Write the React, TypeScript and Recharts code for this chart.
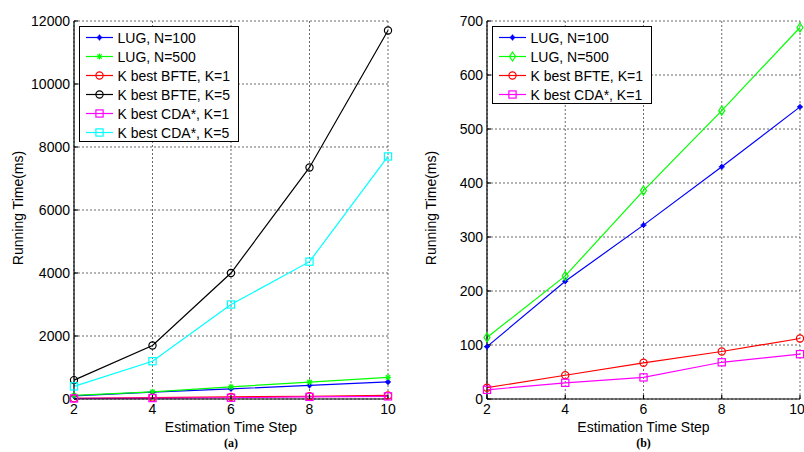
import React from 'react';
import { LineChart, Line, XAxis, YAxis, CartesianGrid, Legend } from 'recharts';

const steps = [2, 4, 6, 8, 10];
const lug100 = [97, 218, 322, 430, 541];
const lug500 = [114, 228, 386, 534, 688];
const bfteK1 = [21, 44, 67, 88, 112];
const bfteK5 = [600, 1700, 4000, 7350, 11700];
const cdaK1 = [17, 30, 40, 68, 83];
const cdaK5 = [400, 1200, 3000, 4360, 7700];

const xTicks = [2, 4, 6, 8, 10];
const yTicksA = [0, 2000, 4000, 6000, 8000, 10000, 12000];
const yTicksB = [0, 100, 200, 300, 400, 500, 600, 700];

const FONT = '"Liberation Sans", Arial, sans-serif';

type Marker = 'plus' | 'star' | 'circle' | 'square' | 'diamond';
interface Series { key: string; name: string; color: string; marker: Marker; }

const seriesA: Series[] = [
  { key: 'lug100', name: 'LUG, N=100', color: '#0000ff', marker: 'plus' },
  { key: 'lug500', name: 'LUG, N=500', color: '#00ff00', marker: 'star' },
  { key: 'bfteK1', name: 'K best BFTE, K=1', color: '#ff0000', marker: 'circle' },
  { key: 'bfteK5', name: 'K best BFTE, K=5', color: '#000000', marker: 'circle' },
  { key: 'cdaK1', name: 'K best CDA*, K=1', color: '#ff00ff', marker: 'square' },
  { key: 'cdaK5', name: 'K best CDA*, K=5', color: '#00ffff', marker: 'square' },
];

const seriesB: Series[] = [
  { key: 'lug100', name: 'LUG, N=100', color: '#0000ff', marker: 'plus' },
  { key: 'lug500', name: 'LUG, N=500', color: '#00ff00', marker: 'diamond' },
  { key: 'bfteK1', name: 'K best BFTE, K=1', color: '#ff0000', marker: 'circle' },
  { key: 'cdaK1', name: 'K best CDA*, K=1', color: '#ff00ff', marker: 'square' },
];

const data = steps.map((s, i) => ({
  step: s,
  lug100: lug100[i],
  lug500: lug500[i],
  bfteK1: bfteK1[i],
  bfteK5: bfteK5[i],
  cdaK1: cdaK1[i],
  cdaK5: cdaK5[i],
}));

function MarkerShape({ cx, cy, type, color }: { cx: number; cy: number; type: Marker; color: string }) {
  if (cx == null || cy == null) return null;
  switch (type) {
    case 'plus':
      return (
        <g stroke={color} strokeWidth={1.2}>
          <line x1={cx - 3} y1={cy} x2={cx + 3} y2={cy} />
          <line x1={cx} y1={cy - 3} x2={cx} y2={cy + 3} />
          <circle cx={cx} cy={cy} r={1.6} fill={color} />
        </g>
      );
    case 'star':
      return (
        <g stroke={color} strokeWidth={1.2}>
          <line x1={cx - 3} y1={cy} x2={cx + 3} y2={cy} />
          <line x1={cx} y1={cy - 3} x2={cx} y2={cy + 3} />
          <line x1={cx - 2.2} y1={cy - 2.2} x2={cx + 2.2} y2={cy + 2.2} />
          <line x1={cx - 2.2} y1={cy + 2.2} x2={cx + 2.2} y2={cy - 2.2} />
        </g>
      );
    case 'circle':
      return <circle cx={cx} cy={cy} r={3.6} fill="none" stroke={color} strokeWidth={1.2} />;
    case 'square':
      return <rect x={cx - 3.6} y={cy - 3.6} width={7.2} height={7.2} fill="none" stroke={color} strokeWidth={1.2} />;
    case 'diamond':
      return (
        <polygon
          points={`${cx},${cy - 4.5} ${cx + 3} ${cy} ${cx},${cy + 4.5} ${cx - 3},${cy}`.replace(' ' + (cx + 3) + ' ', ' ' + (cx + 3) + ',')}
          fill="none"
          stroke={color}
          strokeWidth={1.2}
        />
      );
  }
  return null;
}

function LegendBox({ series, width }: { series: Series[]; width: number }) {
  const rowH = 19;
  const h = series.length * rowH + 2;
  return (
    <div style={{ border: '1.5px solid #000', background: '#fff', width, height: h, boxSizing: 'border-box' }}>
      <svg width={width - 3} height={h - 3} style={{ display: 'block' }}>
        {series.map((s, i) => {
          const y = 1 + rowH * i + rowH / 2;
          return (
            <g key={s.key}>
              <line x1={6} y1={y} x2={33} y2={y} stroke={s.color} strokeWidth={1.2} />
              <MarkerShape cx={19.5} cy={y} type={s.marker} color={s.color} />
              <text x={37.5} y={y + 5} fontSize={14} fontFamily={FONT} fill="#000">{s.name}</text>
            </g>
          );
        })}
      </svg>
    </div>
  );
}

interface PanelProps {
  series: Series[];
  yTicks: number[];
  yMax: number;
  width: number;
  yAxisWidth: number;
  rightMargin: number;
  legendLeft: number;
  tag: string;
}

function Panel({ series, yTicks, yMax, width, yAxisWidth, rightMargin, legendLeft, tag }: PanelProps) {
  const tickStyle = { fill: '#000', fontSize: 14, fontFamily: FONT };
  return (
    <LineChart
      width={width}
      height={452}
      data={data}
      margin={{ top: 21, right: rightMargin, bottom: 0, left: 0 }}
    >
      <CartesianGrid stroke="#444" strokeDasharray="2 2" strokeWidth={0.8} />
      <XAxis
        dataKey="step"
        type="number"
        domain={[2, 10]}
        ticks={xTicks}
        height={53}
        tick={tickStyle}
        tickSize={-4}
        tickMargin={9}
        stroke="#000"
        strokeWidth={1.2}
        label={{
          content: (p: any) => {
            const vb = p.viewBox || {};
            const cx = vb.x + vb.width / 2;
            return (
              <g>
                <text x={cx} y={432} textAnchor="middle" fontSize={14} fontFamily={FONT} fill="#000">Estimation Time Step</text>
                <text x={cx} y={447} textAnchor="middle" fontSize={12} fontWeight="bold" fontFamily='"Liberation Serif", "Times New Roman", serif' fill="#000">{tag}</text>
              </g>
            );
          },
        }}
      />
      <XAxis
        xAxisId="top"
        orientation="top"
        dataKey="step"
        type="number"
        domain={[2, 10]}
        ticks={xTicks}
        height={0}
        tick={false}
        tickSize={-4}
        stroke="#000"
        strokeWidth={1.2}
      />
      <YAxis
        type="number"
        domain={[0, yMax]}
        ticks={yTicks}
        width={yAxisWidth}
        tick={tickStyle}
        tickSize={-4}
        tickMargin={8}
        stroke="#000"
        strokeWidth={1.2}
        interval={0}
        label={{
          content: (p: any) => {
            const vb = p.viewBox || {};
            const cx = vb.x + vb.width - 56;
            const cy = 208;
            return (
              <text x={cx} y={cy} transform={`rotate(-90 ${cx} ${cy})`} textAnchor="middle" dominantBaseline="central" fontSize={14} fontFamily={FONT} fill="#000">Running Time(ms)</text>
            );
          },
        }}
      />
      <YAxis
        yAxisId="right"
        orientation="right"
        type="number"
        domain={[0, yMax]}
        ticks={yTicks}
        width={0}
        tick={false}
        tickSize={-4}
        stroke="#000"
        strokeWidth={1.2}
      />
      {series.map((s) => (
        <Line
          key={s.key}
          dataKey={s.key}
          name={s.name}
          stroke={s.color}
          strokeWidth={1.2}
          isAnimationActive={false}
          dot={(p: any) => <MarkerShape key={`${s.key}-${p.index}`} cx={p.cx} cy={p.cy} type={s.marker} color={s.color} />}
          activeDot={false}
        />
      ))}
      <Legend
        layout="vertical"
        align="center"
        verticalAlign="middle"
        wrapperStyle={{ position: 'absolute', left: legendLeft, top: 26, width: 160, height: 'auto' }}
        content={() => <LegendBox series={series} width={160} />}
      />
    </LineChart>
  );
}

export default function App() {
  return (
    <div style={{ position: 'absolute', left: 0, top: 0, width: 804, height: 452, background: '#fff', overflow: 'hidden' }}>
      <div style={{ position: 'absolute', left: 0, top: 0 }}>
        <Panel series={seriesA} yTicks={yTicksA} yMax={12000} width={400} yAxisWidth={74} rightMargin={12} legendLeft={79} tag="(a)" />
      </div>
      <div style={{ position: 'absolute', left: 400, top: 0 }}>
        <Panel series={seriesB} yTicks={yTicksB} yMax={700} width={404} yAxisWidth={87} rightMargin={4} legendLeft={92} tag="(b)" />
      </div>
    </div>
  );
}
